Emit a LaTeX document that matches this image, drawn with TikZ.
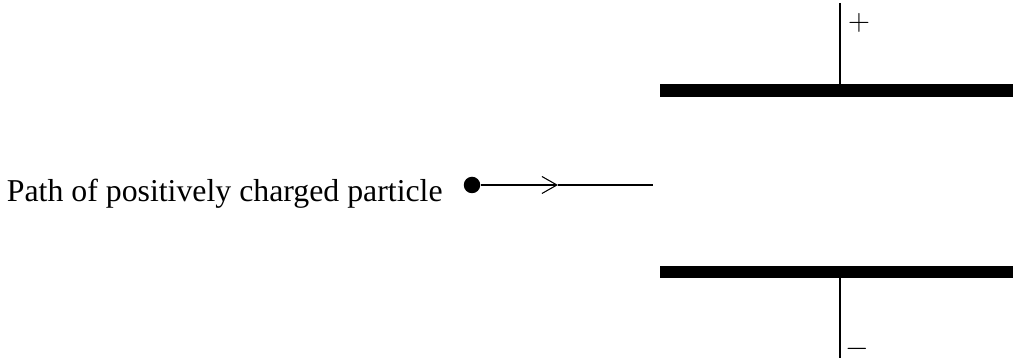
\documentclass[tikz,border=0pt]{standalone}
\usepackage{fontspec}
\setmainfont{Liberation Serif}
\usetikzlibrary{arrows.meta,positioning}

\begin{document}
\begin{tikzpicture}[every node/.style={font=\fontsize{18.1}{21}\selectfont}]
\tikzset{plate/.style={line width=0.25cm}}
\tikzset{wire/.style={line width=0.6pt}}
\tikzset{charge/.style={inner sep=0pt, font=\fontsize{17}{20}\selectfont}}
\useasboundingbox (0,0) rectangle (20.26,7.22);
% capacitor plates
\coordinate (tl) at (13.2,5.41);
\coordinate (tr) at (20.26,5.41);
\coordinate (bl) at (13.2,1.78);
\coordinate (br) at (20.26,1.78);
\draw[plate] (tl) -- (tr);
\draw[plate] (bl) -- (br);
% leads
\coordinate (ttop) at (16.8,7.16);
\coordinate (tplate) at (16.8,5.53);
\coordinate (bbot) at (16.8,0.06);
\coordinate (bplate) at (16.8,1.66);
\draw[wire] (ttop) -- (tplate);
\draw[wire] (bbot) -- (bplate);
\node[charge] (plus) at (17.18,6.76) {$+$};
\node[charge] (minus) at (17.14,0.24) {$-$};
% particle
\node[circle, fill, inner sep=0pt, minimum size=0.33cm] (dot) at (9.44,3.52) {};
\coordinate (mid) at (11.16,3.52);
\coordinate (pend) at (13.06,3.52);
\draw[wire, -{Straight Barb[length=0.3cm, width=0.34cm, line width=0.6pt]}] (dot) -- (mid);
\draw[wire] (mid) -- (pend);
\node[anchor=base east, inner sep=0pt] (lbl) at (8.86,3.18) {Path of positively charged particle};
\end{tikzpicture}
\end{document}
